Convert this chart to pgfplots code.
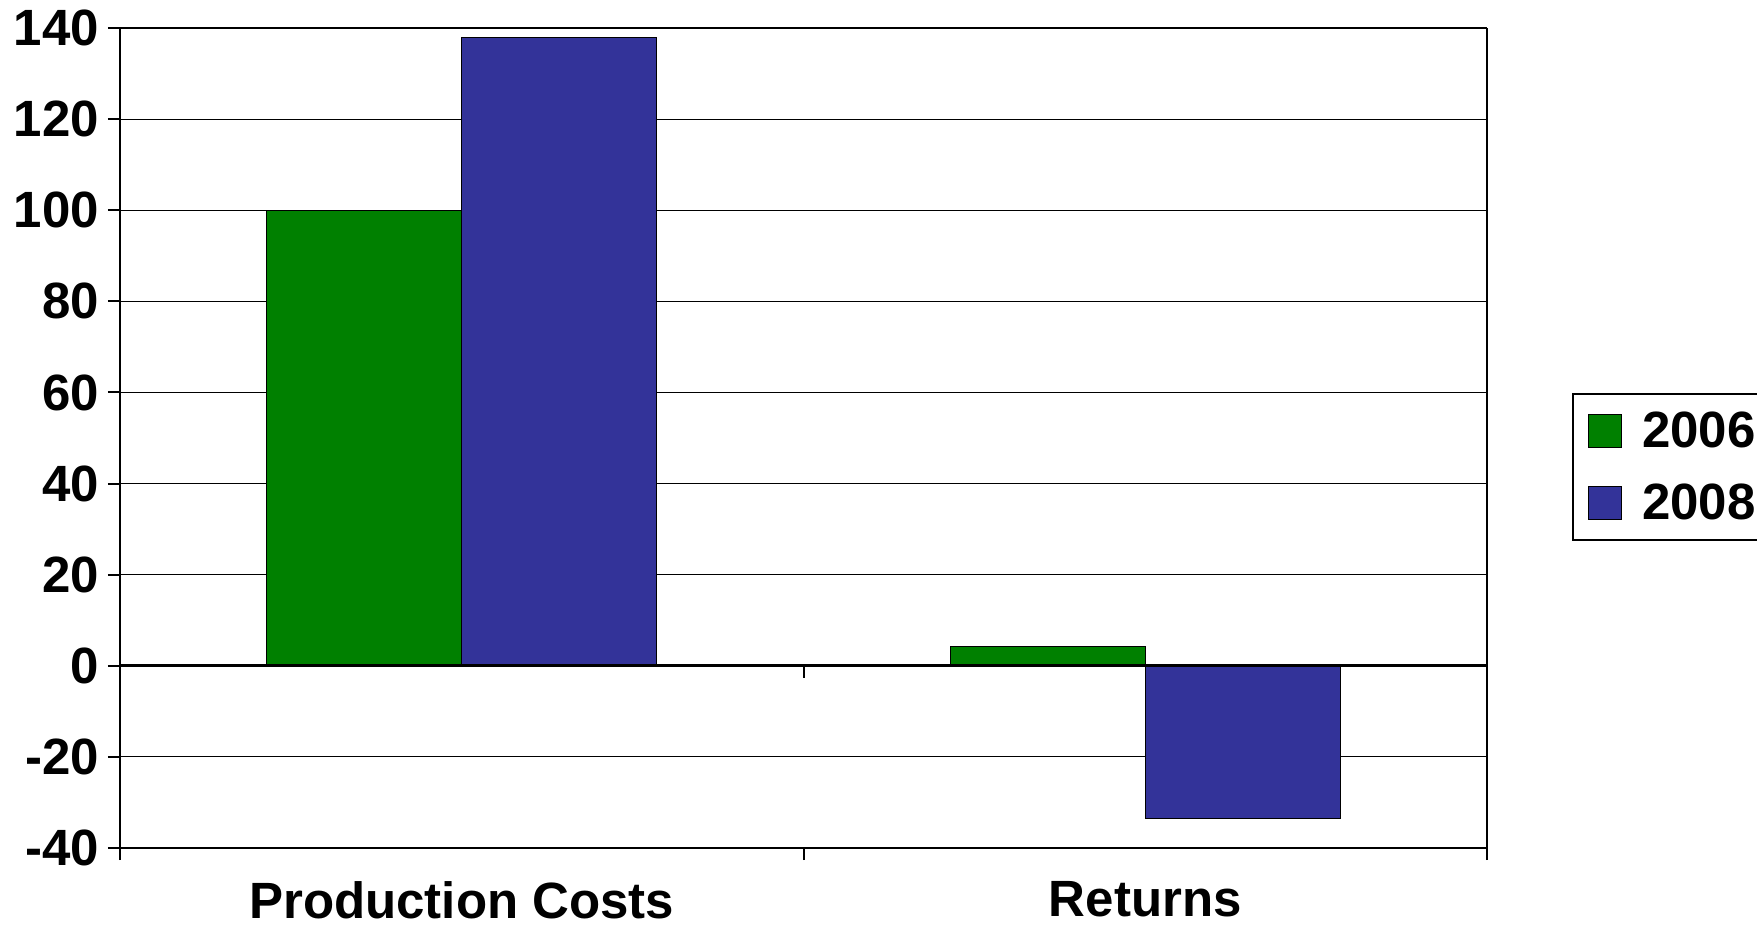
\documentclass[border=0pt]{standalone}
\usepackage{pgfplots}
\pgfplotsset{compat=1.18}
\usepackage{fontspec}
\setmainfont{Liberation Sans}
\definecolor{cgreen}{RGB}{0,128,0}
\definecolor{cblue}{RGB}{51,51,153}
\begin{document}
\begin{tikzpicture}
\begin{axis}[
  scale only axis,
  width=683.5pt, height=410pt,
  xmin=-0.5, xmax=1.5, ymin=-40, ymax=140,
  ybar=0pt, bar width=97.5pt,
  axis x line*=bottom, axis y line*=left,
  axis line style={line width=1.2pt},
  ytick={-40,-20,0,20,40,60,80,100,120,140},
  yticklabels={-40,-20,0,20,40,60,80,100,120,140},
  ymajorgrids, grid style={black, line width=0.6pt},
  xtick={-0.5,0.5,1.5}, xticklabels={},
  extra x ticks={0,1},
  extra x tick labels={Production Costs,Returns},
  extra x tick style={major tick length=0pt, grid=none, xticklabel style={yshift=-13pt}},
  tick align=outside, major tick length=6pt,
  tick style={black, line width=1pt},
  every tick label/.append style={font=\fontsize{25.5}{30}\selectfont\bfseries},
  yticklabel style={xshift=-1pt},
  legend style={at={(1.0622,0.5549)}, anchor=north west, draw=black, line width=0.8pt,
    font=\fontsize{25.5}{30}\selectfont\bfseries, inner xsep=7.5pt, inner ysep=7pt,
    row sep=12.5pt, column sep=8pt, cells={anchor=west}},
  legend image code/.code={\draw[#1,draw=black,line width=0.6pt] (0pt,-8.25pt) rectangle (16.5pt,8.25pt);},
  clip=false,
]
\addplot[fill=cgreen, draw=black, line width=0.6pt] coordinates {(0,100) (1,4.2)};
\addplot[fill=cblue, draw=black, line width=0.6pt] coordinates {(0,138) (1,-33.6)};
\legend{2006,2008}
\draw[line width=1.5pt] (axis cs:-0.5,0) -- (axis cs:1.5,0);
\draw[line width=1pt] (axis cs:0.5,0) -- ([yshift=-6pt]axis cs:0.5,0);
\draw[line width=1pt] (axis cs:1.5,-40) -- ([yshift=-6pt]axis cs:1.5,-40);
\draw[line width=1pt] (axis cs:1.5,-40) -- (axis cs:1.5,140);
\end{axis}
\pgfresetboundingbox
\useasboundingbox (-60pt,-40pt) rectangle (818.5pt,424pt);
\end{tikzpicture}
\end{document}
